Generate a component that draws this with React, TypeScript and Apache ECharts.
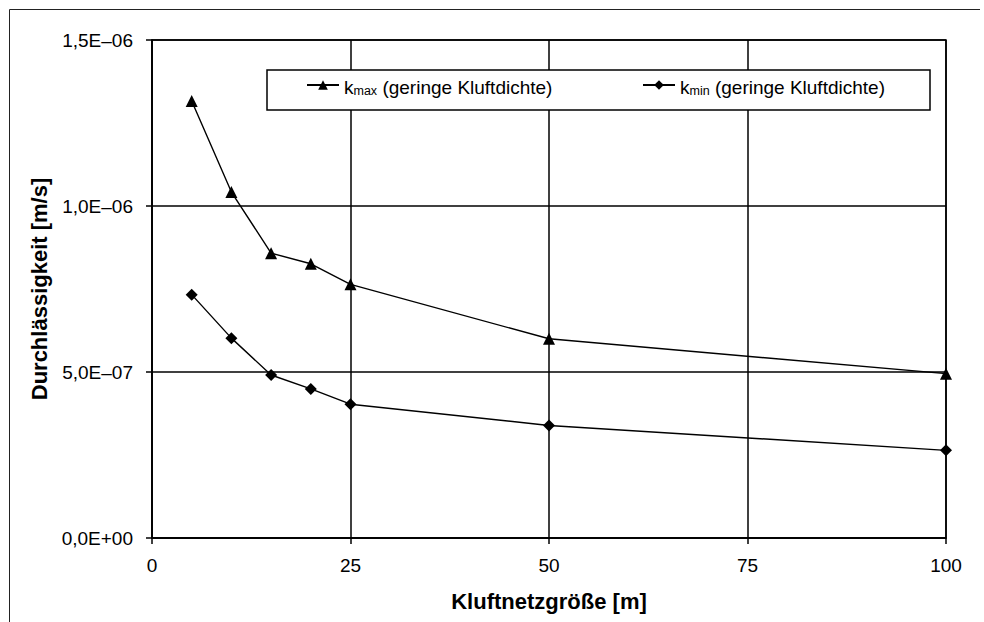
import React, { useEffect, useRef } from "react";
import * as echarts from "echarts";

const xValues = [5, 10, 15, 20, 25, 50, 100];
const kMax = [1.316e-6, 1.042e-6, 0.858e-6, 0.826e-6, 0.764e-6, 0.6e-6, 0.495e-6];
const kMin = [0.733e-6, 0.602e-6, 0.491e-6, 0.449e-6, 0.403e-6, 0.339e-6, 0.264e-6];
const yTickLabels = ["0,0E+00", "5,0E–07", "1,0E–06", "1,5E–06"];
const seriesNames = ["kmax", "kmin"];
const legendSubs = ["max", "min"];
const legendSuffix = " (geringe Kluftdichte)";
const xTitle = "Kluftnetzgröße [m]";
const yTitle = "Durchlässigkeit [m/s]";

const FONT = "'Liberation Sans', Arial, Helvetica, sans-serif";

export default function App() {
  const ref = useRef<HTMLDivElement>(null);
  useEffect(() => {
    document.body.style.margin = "0";
    const chart = echarts.init(ref.current!, undefined, { renderer: "svg" });
    const legendFormatter = (name: string) => {
      const i = seriesNames.indexOf(name);
      return `{n|k}{s|${legendSubs[i]}}{n|${legendSuffix}}`;
    };
    const legendRich = {
      n: { fontSize: 19, fontFamily: FONT, color: "#000", lineHeight: 24, verticalAlign: "bottom" },
      s: { fontSize: 12.5, fontFamily: FONT, color: "#000", lineHeight: 10, verticalAlign: "bottom" },
    };
    const mkLegend = (i: number, left: number) => ({
      data: [seriesNames[i]],
      left,
      top: 78,
      padding: 0,
      itemWidth: 32,
      itemHeight: 12,
      itemGap: 0,
      formatter: legendFormatter,
      textStyle: { rich: legendRich, fontFamily: FONT, fontSize: 19, color: "#000" },
      z: 10,
    });
    const axisText = { fontFamily: FONT, fontSize: 22, fontWeight: "bold", color: "#000" };
    chart.setOption({
      animation: false,
      backgroundColor: "#fff",
      textStyle: { fontFamily: FONT },
      grid: { left: 152, top: 40, width: 794, height: 498, show: true, borderColor: "#000", borderWidth: 1.5, backgroundColor: "transparent" },
      legend: [mkLegend(0, 306), mkLegend(1, 642)],
      graphic: [
        { type: "line", shape: { x1: 9.5, y1: 9.5, x2: 980, y2: 9.5 }, style: { stroke: "#222", lineWidth: 1 }, z: 1 },
        { type: "line", shape: { x1: 9.5, y1: 9.5, x2: 9.5, y2: 622 }, style: { stroke: "#222", lineWidth: 1 }, z: 1 },
        { type: "rect", shape: { x: 267, y: 70, width: 663, height: 40 }, style: { fill: "#fff", stroke: "#000", lineWidth: 1.5 }, z: 5 },
      ],
      xAxis: {
        type: "value",
        min: 0,
        max: 100,
        interval: 25,
        name: xTitle,
        nameLocation: "middle",
        nameGap: 52,
        nameTextStyle: axisText,
        axisLine: { show: true, lineStyle: { color: "#000", width: 1.5 } },
        axisTick: { show: true, inside: false, length: 6, lineStyle: { color: "#000", width: 1.5 } },
        axisLabel: { margin: 18, fontSize: 19, fontFamily: FONT, color: "#000" },
        splitLine: { show: true, lineStyle: { color: "#000", width: 1.5 } },
      },
      yAxis: {
        type: "value",
        min: 0,
        max: 1.5e-6,
        interval: 0.5e-6,
        name: yTitle,
        nameLocation: "middle",
        nameGap: 99,
        nameTextStyle: axisText,
        axisLine: { show: true, lineStyle: { color: "#000", width: 1.5 } },
        axisTick: { show: true, inside: false, length: 6, lineStyle: { color: "#000", width: 1.5 } },
        axisLabel: {
          margin: 19,
          fontSize: 19,
          fontFamily: FONT,
          color: "#000",
          formatter: (_v: number, i: number) => yTickLabels[i],
        },
        splitLine: { show: true, lineStyle: { color: "#000", width: 1.5 } },
      },
      series: [
        {
          name: seriesNames[0],
          type: "line",
          data: xValues.map((x, i) => [x, kMax[i]]),
          smooth: false,
          symbol: "triangle",
          symbolSize: 12,
          itemStyle: { color: "#000" },
          lineStyle: { color: "#000", width: 1.4 },
          z: 3,
        },
        {
          name: seriesNames[1],
          type: "line",
          data: xValues.map((x, i) => [x, kMin[i]]),
          smooth: false,
          symbol: "diamond",
          symbolSize: 12,
          itemStyle: { color: "#000" },
          lineStyle: { color: "#000", width: 1.4 },
          z: 3,
        },
      ],
    });
    return () => chart.dispose();
  }, []);
  return <div ref={ref} style={{ width: 984, height: 622 }} />;
}
